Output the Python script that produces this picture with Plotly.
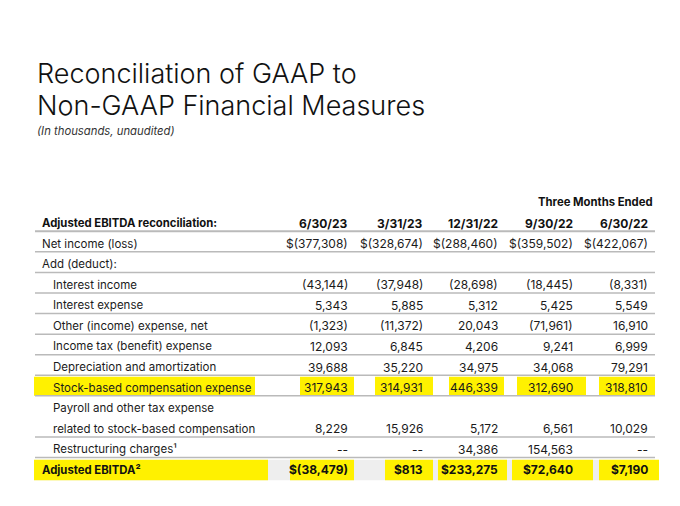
import plotly.graph_objects as go

# ---------------- data ----------------
periods = ["6/30/23", "3/31/23", "12/31/22", "9/30/22", "6/30/22"]
period_group = "Three Months Ended"
header_label = "Adjusted EBITDA reconciliation:"

row_labels = [
    "Net income (loss)",
    "Add (deduct):",
    "Interest income",
    "Interest expense",
    "Other (income) expense, net",
    "Income tax (benefit) expense",
    "Depreciation and amortization",
    "Stock-based compensation expense",
    "Payroll and other tax expense",
    "related to stock-based compensation",
    "Restructuring charges\u00b9",
    "Adjusted EBITDA\u00b2",
]

net_income = [-377308, -328674, -288460, -359502, -422067]
add_deduct = [None, None, None, None, None]
interest_income = [-43144, -37948, -28698, -18445, -8331]
interest_expense = [5343, 5885, 5312, 5425, 5549]
other_expense = [-1323, -11372, 20043, -71961, 16910]
income_tax = [12093, 6845, 4206, 9241, 6999]
depreciation = [39688, 35220, 34975, 34068, 79291]
stock_comp = [317943, 314931, 446339, 312690, 318810]
payroll_label_only = [None, None, None, None, None]
payroll_tax = [8229, 15926, 5172, 6561, 10029]
restructuring = [None, None, 34386, 154563, None]
adjusted_ebitda = [-38479, 813, 233275, 72640, 7190]

row_values = [net_income, add_deduct, interest_income, interest_expense,
              other_expense, income_tax, depreciation, stock_comp,
              payroll_label_only, payroll_tax, restructuring, adjusted_ebitda]
blank_rows = {1, 8}          # label-only rows (no numbers)
dash_missing = {10}          # missing values printed as "--"
dollar_rows = {0, 11}
bold_rows = {11}
indented_rows = {2, 3, 4, 5, 6, 7, 8, 9, 10}
no_rule_after = {8, 11}
highlight_row = 7
total_row = 11


def fmt(v, dollar):
    if v is None:
        return "--"
    s = f"{abs(v):,}"
    if v < 0:
        s = f"({s})"
    return ("$" if dollar else "") + s


# ---------------- layout constants ----------------
PAGE_W, PAGE_H = 680, 506
OFF = 8                      # default body margin of the html page
W, H = PAGE_W - 2 * OFF, PAGE_H - 2 * OFF
FONT = "Inter, Roboto, Arial, sans-serif"
TXT = "#1b1b1b"
RULE = "#bababa"
YELLOW = "#FFF100"
GREY_BG = "#EEEEEE"

row_pitch = 20.58
header_px = 223.0            # page-pixel centre of header row
x_label = 40
x_indent = 51
x_rule0, x_rule1 = 35, 655
col_right = [350 + 75 * j for j in range(len(periods))]

# x axis in page pixels, y axis in row units (header row = 0)
x_range = [OFF, OFF + W]
y_top = -(header_px - OFF) / row_pitch
y_bot = (OFF + H - header_px) / row_pitch


def px(p):
    return (p - OFF) / W


def py(p):
    return 1 - (p - OFF) / H


fig = go.Figure()
fig.add_trace(go.Scatter(x=[None], y=[None], mode="markers", showlegend=False,
                         hoverinfo="skip"))

ann = []
shapes = []

label_font = dict(family=FONT, size=11.5, color=TXT)
num_font = dict(family=FONT, size=12, color=TXT)
bold_label_font = dict(family=FONT, size=11.3, color="#111111", weight=700)
bold_num_font = dict(family=FONT, size=12, color="#111111", weight=700)

title_font = dict(family=FONT, size=27, color="#111111", weight=300)
ann.append(dict(xref="paper", yref="paper", x=px(35), y=py(73),
                xanchor="left", yanchor="middle", showarrow=False,
                text="Reconciliation of GAAP to", font=title_font))
ann.append(dict(xref="paper", yref="paper", x=px(35), y=py(106),
                xanchor="left", yanchor="middle", showarrow=False,
                text="Non-GAAP Financial Measures", font=title_font))
ann.append(dict(xref="paper", yref="paper", x=px(35), y=py(131),
                xanchor="left", yanchor="middle", showarrow=False,
                text="<i>(In thousands, unaudited)</i>",
                font=dict(family=FONT, size=11.3, color="#333333")))

# group header
ann.append(dict(xref="x", yref="y", x=x_rule1, y=-1, xanchor="right",
                yanchor="middle", showarrow=False, text=period_group,
                font=bold_label_font))
# header row
ann.append(dict(xref="x", yref="y", x=x_label, y=0, xanchor="left",
                yanchor="middle", showarrow=False, text=header_label,
                font=bold_label_font))
for j, p in enumerate(periods):
    ann.append(dict(xref="x", yref="y", x=col_right[j], y=0, xanchor="right",
                    yanchor="middle", showarrow=False, text=p,
                    font=bold_num_font))
shapes.append(dict(type="line", xref="x", yref="y", x0=x_rule0, x1=x_rule1,
                   y0=0.4, y1=0.4, line=dict(color=RULE, width=2), layer="above"))

# highlight & total backgrounds
hl_y = highlight_row + 1
shapes.append(dict(type="rect", xref="x", yref="y", x0=34, x1=255,
                   y0=hl_y - 0.53, y1=hl_y + 0.4, fillcolor=YELLOW,
                   line=dict(width=0), layer="below"))
hl_off = [(-50, 4), (-50, 8), (-51, 4), (-58, 11), (-51, 5)]
for j, (a, b) in enumerate(hl_off):
    shapes.append(dict(type="rect", xref="x", yref="y", x0=col_right[j] + a,
                       x1=col_right[j] + b, y0=hl_y - 0.53, y1=hl_y + 0.4,
                       fillcolor=YELLOW, line=dict(width=0), layer="below"))

tot_y = total_row + 1
shapes.append(dict(type="rect", xref="x", yref="y", x0=34, x1=x_rule1,
                   y0=tot_y - 0.5, y1=tot_y + 0.5, fillcolor=GREY_BG,
                   line=dict(width=0), layer="below"))
shapes.append(dict(type="rect", xref="x", yref="y", x0=34, x1=268,
                   y0=tot_y - 0.5, y1=tot_y + 0.5, fillcolor=YELLOW,
                   line=dict(width=0), layer="below"))
tot_off = [(-60, 4), (-40, 8), (-62, 7), (-63, 18), (-51, 9)]
for j, (a, b) in enumerate(tot_off):
    shapes.append(dict(type="rect", xref="x", yref="y", x0=col_right[j] + a,
                       x1=col_right[j] + b, y0=tot_y - 0.5, y1=tot_y + 0.5,
                       fillcolor=YELLOW, line=dict(width=0), layer="below"))

# body rows
for i, (label, vals) in enumerate(zip(row_labels, row_values)):
    y = i + 1
    bold = i in bold_rows
    ann.append(dict(xref="x", yref="y",
                    x=x_indent if i in indented_rows else x_label, y=y,
                    xanchor="left", yanchor="middle", showarrow=False,
                    text=label, font=bold_label_font if bold else label_font))
    if i not in blank_rows:
        for j, v in enumerate(vals):
            if v is None and i not in dash_missing:
                continue
            ann.append(dict(xref="x", yref="y", x=col_right[j], y=y,
                            xanchor="right", yanchor="middle", showarrow=False,
                            text=fmt(v, i in dollar_rows),
                            font=bold_num_font if bold else num_font))
    if i not in no_rule_after:
        shapes.append(dict(type="line", xref="x", yref="y", x0=x_rule0,
                           x1=x_rule1, y0=y + 0.4, y1=y + 0.4,
                           line=dict(color=RULE, width=1.5), layer="above"))

fig.update_layout(
    width=W, height=H, autosize=False,
    margin=dict(l=0, r=0, t=0, b=0),
    paper_bgcolor="white", plot_bgcolor="white",
    xaxis=dict(range=x_range, visible=False, fixedrange=True),
    yaxis=dict(range=[y_bot, y_top], visible=False, fixedrange=True),
    annotations=ann, shapes=shapes, showlegend=False,
)

fig.write_html("out.html")
